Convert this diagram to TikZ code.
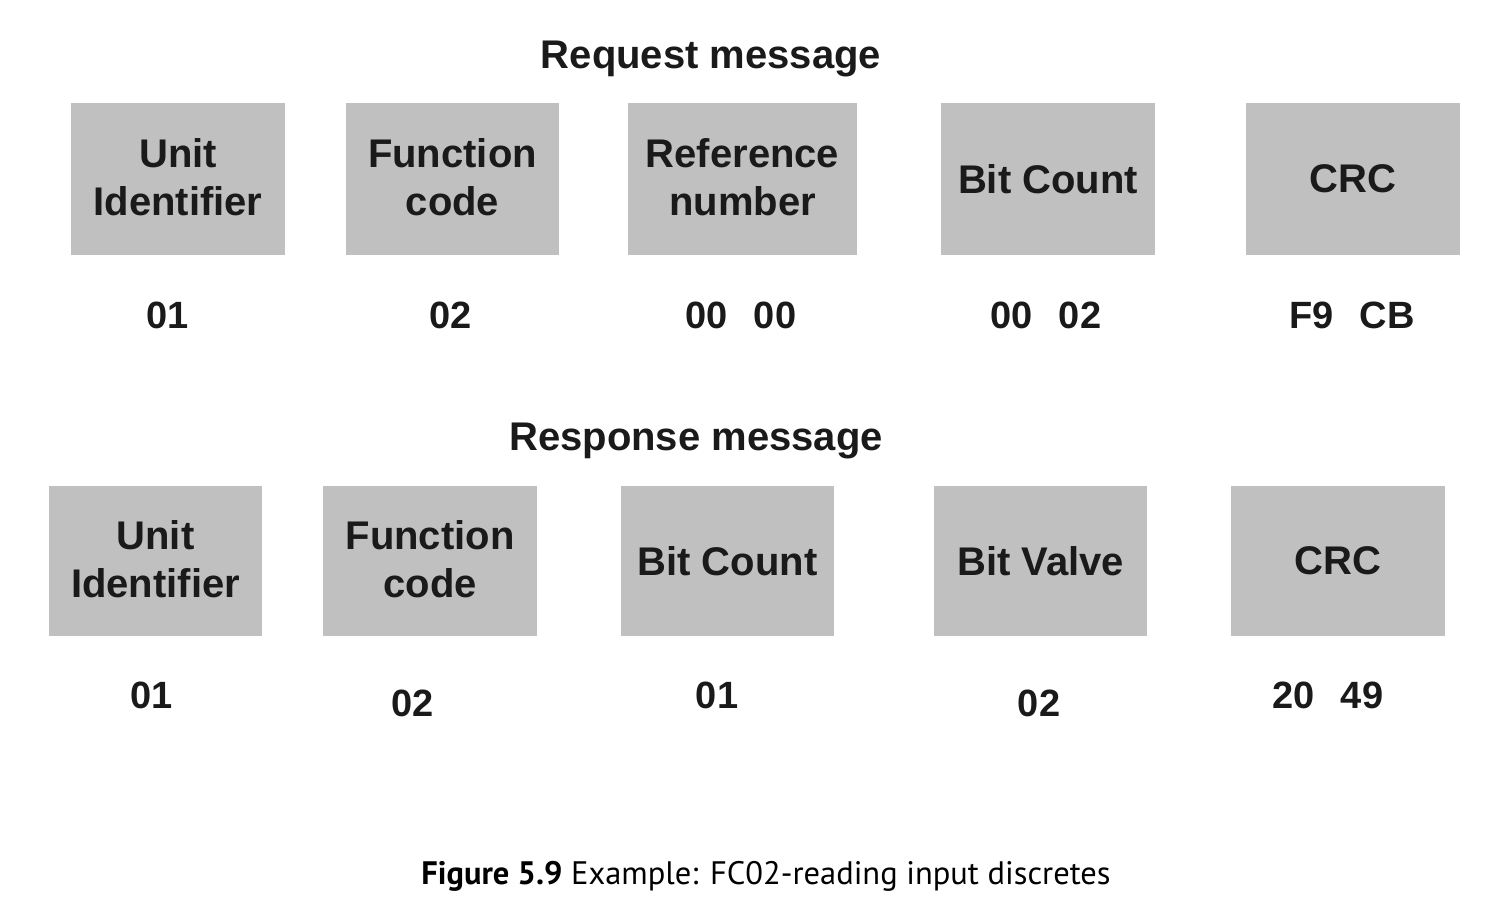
\documentclass[tikz,border=0pt]{standalone}
\usepackage{fontspec}
\setmainfont{Liberation Sans}
\newfontfamily\capfont{PT Sans}
\definecolor{boxgray}{HTML}{C0C0C0}
\definecolor{ink}{HTML}{1A1A1A}
\begin{document}
\begin{tikzpicture}[x=1pt,y=-1pt,
  field/.style={fill=boxgray, draw=none, inner sep=0pt, align=center, text=ink,
    font=\fontsize{40}{48}\selectfont\bfseries},
  val/.style={inner sep=0pt, text=ink, font=\fontsize{38}{44}\selectfont\bfseries},
  ttl/.style={inner sep=0pt, text=ink, font=\fontsize{40}{48}\selectfont\bfseries},
  captxt/.style={inner sep=0pt, text=black, font=\capfont\fontsize{32.5}{40}\selectfont}]
\useasboundingbox (0,0) rectangle (1489,897);
% Request
\node[ttl] (rqt) at (711,59) {Request message};
\path[field] (71,103) rectangle (285,255) node[midway,yshift=2pt] (q1) {Unit\\Identifier};
\path[field] (346,103) rectangle (559,255) node[midway,yshift=2pt] (q2) {Function\\code};
\path[field] (628,103) rectangle (857,255) node[midway,yshift=2pt] (q3) {Reference\\number};
\path[field] (941,103) rectangle (1155,255) node[midway] (q4) {Bit Count};
\path[field] (1246,103) rectangle (1460,255) node[midway] (q5) {CRC};
\node[val] (qv1) at (168,315) {01};
\node[val] (qv2) at (451,315) {02};
\node[val] (qv3) at (741,315) {00\hspace{26pt}00};
\node[val] (qv4) at (1046,315) {00\hspace{26pt}02};
\node[val] (qv5) at (1352,315) {F9\hspace{26pt}CB};
% Response
\node[ttl] (rst) at (696,441) {Response message};
\path[field] (49,486) rectangle (262,636) node[midway,yshift=2pt] (r1) {Unit\\Identifier};
\path[field] (323,486) rectangle (537,636) node[midway,yshift=2pt] (r2) {Function\\code};
\path[field] (621,486) rectangle (834,636) node[midway] (r3) {Bit Count};
\path[field] (934,486) rectangle (1147,636) node[midway] (r4) {Bit Valve};
\path[field] (1231,486) rectangle (1445,636) node[midway] (r5) {CRC};
\node[val] (rv1) at (152,695) {01};
\node[val] (rv2) at (413,703) {02};
\node[val] (rv3) at (717,695) {01};
\node[val] (rv4) at (1039,703) {02};
\node[val] (rv5) at (1328,695) {20\hspace{26pt}49};
% Caption
\node[captxt] (cap) at (766,876) {\textbf{Figure 5.9} Example: FC02-reading input discretes};
\end{tikzpicture}
\end{document}
